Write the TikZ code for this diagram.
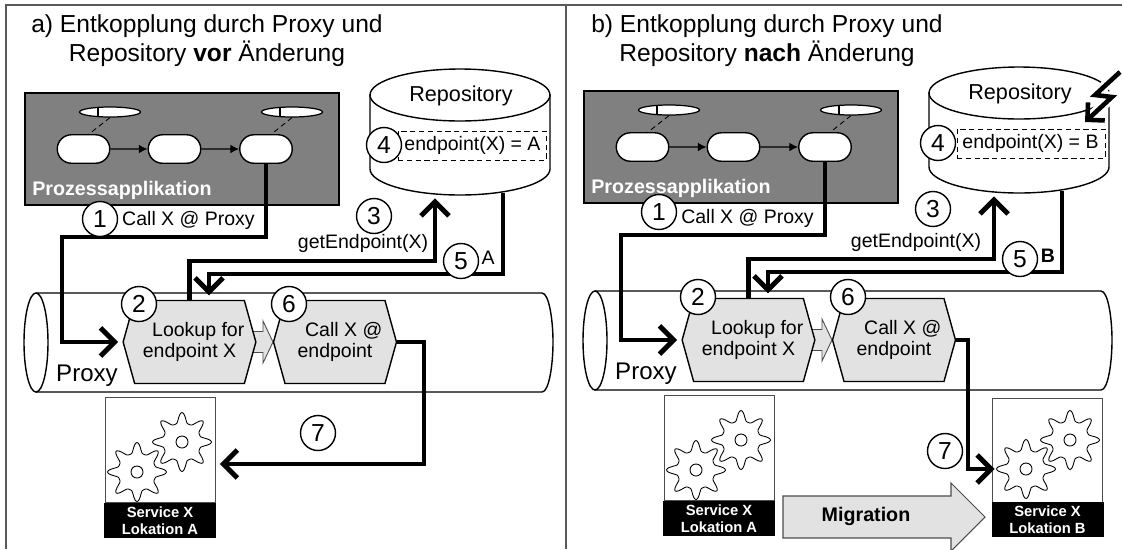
\documentclass[tikz,border=0pt]{standalone}
\usepackage{fontspec}
\setmainfont{Liberation Sans}
\usetikzlibrary{shapes.geometric, shapes.misc, shapes.symbols, arrows.meta, positioning, calc}

\definecolor{procgray}{HTML}{808080}
\definecolor{boxgray}{HTML}{E2E2E2}

\tikzset{
  frameline/.style={draw=black!65, line width=0.7pt},
  titletext/.style={font=\fontsize{14}{16.4}\selectfont, align=center},
  smalltext/.style={font=\fontsize{11.1}{11.5}\selectfont, align=center, inner sep=0pt},
  procbox/.style={draw=black, fill=procgray, line width=0.8pt, minimum width=6.28cm, minimum height=2.24cm, inner sep=0pt},
  taskbox/.style={rounded rectangle, draw=black, fill=white, line width=0.8pt, minimum width=1.05cm, minimum height=0.57cm, inner sep=0pt},
  eventbox/.style={ellipse, draw=black, fill=white, line width=0.7pt, minimum width=1.22cm, minimum height=0.2cm, inner sep=0pt},
  hexbox/.style={signal, signal from=nowhere, signal to=east and west, signal pointer angle=149, draw=black, fill=boxgray, line width=0.8pt, minimum width=2.46cm, minimum height=1.66cm, inner sep=0pt, smalltext},
  numcircle/.style={circle, draw=black, fill=white, line width=0.8pt, minimum size=0.7cm, inner sep=0pt, font=\fontsize{14}{14}\selectfont},
  servicebox/.style={draw=black!70, fill=white, line width=0.5pt, minimum width=2.2cm, minimum height=2.1cm, inner sep=0pt},
  servicelabel/.style={fill=black, text=white, minimum width=2.24cm, minimum height=0.7cm, inner sep=0pt, align=center, font=\fontsize{8.4}{10}\selectfont\bfseries},
  flow/.style={line width=2.8pt, shorten >=2.5pt, -{Straight Barb[length=8pt, width=16pt, line width=2.8pt]}},
  shell/.style={draw=black, fill=white, line width=0.8pt},
}

\newcommand{\gearshape}[2]{
  \draw[black, fill=white, line width=0.5pt] plot[smooth cycle, domain=0:357.5, samples=144]
    ({#1+(19+10.5*(0.5+0.5*cos(8*\x))^2)*cos(\x)}, {#2+(19+10.5*(0.5+0.5*cos(8*\x))^2)*sin(\x)});
  \draw[black, fill=white, line width=0.5pt] (#1,#2) circle[radius=6];
}

\begin{document}
\begin{tikzpicture}[x=0.02cm, y=-0.02cm]

  \useasboundingbox (0,0) rectangle (1122,549);

  %\draw[help lines, step=100] (0,0) grid (1122,549);

  \draw[frameline] (6,549) -- (6,5) -- (1122,5);
  \draw[frameline] (566,5) -- (566,549);

  \node[titletext] (a-title) at (207,41) {a) Entkopplung durch Proxy und\\Repository \textbf{vor} Änderung};
  \node[titletext] (b-title) at (767,41) {b) Entkopplung durch Proxy und\\Repository \textbf{nach} Änderung};

  % both panels share everything but a few shifts
  \foreach \p/\dx/\dy/\cf in {a/0/0/0, b/559/-2/-5} {
    \begin{scope}[shift={(\dx,\dy)}]
      \node[procbox] (\p-proc) at (182,149) {};
      \node[anchor=west, inner sep=0pt, text=white, font=\fontsize{11.2}{12}\selectfont\bfseries] (\p-proctext) at (32,190) {Prozessapplikation};
      \node[taskbox] (\p-task1) at (83.5,149) {};
      \node[taskbox] (\p-task2) at (174.5,149) {};
      \node[taskbox] (\p-task3) at (266,149) {};
      \node[eventbox] (\p-ev1) at (110,112) {};
      \node[eventbox] (\p-ev3) at (292,112) {};
      \draw[line width=0.7pt] ([xshift=-.24cm,yshift=.09cm]\p-ev1.center) -- ([xshift=-.24cm,yshift=-.09cm]\p-ev1.center);
      \draw[line width=0.7pt] ([xshift=-.24cm,yshift=.09cm]\p-ev3.center) -- ([xshift=-.24cm,yshift=-.09cm]\p-ev3.center);
      \draw[densely dashed, line width=0.5pt] (\p-ev1.south) -- (\p-task1.70);
      \draw[densely dashed, line width=0.5pt] (\p-ev3.south) -- (\p-task3.70);
      \draw[line width=0.7pt, -{Latex[length=5pt, width=5pt]}] (\p-task1) -- (\p-task2);
      \draw[line width=0.7pt, -{Latex[length=5pt, width=5pt]}] (\p-task2) -- (\p-task3);

      % proxy tube
      \draw[shell] (36,293) -- (542,293) .. controls (549,293) and (553,320) .. (553,342) .. controls (553,365) and (549,392) .. (542,392) -- (36,392) -- cycle;
      \node[ellipse, shell, minimum width=0.48cm, minimum height=1.98cm, inner sep=0pt] (\p-proxycap) at (36,342.5) {};
      \node[inner sep=0pt, font=\fontsize{13.7}{14}\selectfont] (\p-proxytext) at (87,376) {Proxy};

      \draw[draw=black!70, fill=boxgray, line width=0.5pt] (240,331.5) -- (263,331.5) -- (263,321) -- (273,342) -- (263,363) -- (263,352.5) -- (240,352.5) -- cycle;
      \node[hexbox] (\p-lookup) at (189.5,342) {\hspace*{0.9em}Lookup for\\endpoint X};
      \node[hexbox] (\p-call) at (335,342) {\hspace*{0.9em}Call X @\\endpoint};

      % repository drum
      \draw[shell] (370,95) -- (370,169) .. controls (370,183) and (410,195) .. (460,195) .. controls (510,195) and (550,183) .. (550,169) -- (550,95) -- cycle;
      \node[ellipse, shell, minimum width=3.6cm, minimum height=1.04cm, inner sep=0pt] (\p-repocap) at (460,95) {};
      \node[inner sep=0pt, font=\fontsize{12.3}{13}\selectfont] (\p-repotext) at (461,96) {Repository};
      \node[draw=black, densely dashed, line width=0.5pt, minimum width=2.96cm, minimum height=0.58cm, inner sep=0pt] (\p-entry) at (472,145.5) {};

      \node[servicebox] (\p-service) at (160,450) {};
      \gearshape{182}{442}
      \gearshape{137}{472}
      \node[servicelabel] (\p-label) at (160,520.5) {Service X\\Lokation A};

      \coordinate (\p-k1) at (62,237);
      \coordinate (\p-k3) at (435,261);
      \coordinate (\p-r3) at (435,194);
      \coordinate (\p-r5) at (503,193);
      \coordinate (\p-k5) at (209,274);

      \draw[flow] (\p-task3.south) |- (\p-k1) |- (\p-lookup.west);
      \draw[flow] (\p-lookup.north) |- (\p-k3) -- (\p-r3);
      \draw[flow] (\p-r5) |- (\p-k5) -- (\p-k5 |- \p-lookup.north);

      \node[numcircle] (\p-n1) at (100,219+\cf) {1};
      \node[numcircle] (\p-n2) at (139,304+\cf) {2};
      \node[numcircle] (\p-n3) at (374,216+\cf) {3};
      \node[numcircle] (\p-n4) at (384+\cf,145) {4};
      \node[numcircle] (\p-n5) at (461,261) {5};
      \node[numcircle] (\p-n6) at (289,304+\cf) {6};

      \node[smalltext] (\p-calltext) at (188.5,220) {Call X @ Proxy};
    \end{scope}
  }

  \node[smalltext] (a-gettext) at (363,243) {getEndpoint(X)};
  \node[smalltext] (b-gettext) at (916,242) {getEndpoint(X)};
  \node[smalltext] (a-value) at (472.5,145.5) {endpoint(X) = A};
  \node[smalltext] (b-value) at (1030.5,143.5) {endpoint(X) = B};
  \node[smalltext] (a-answer) at (488,258) {A};
  \node[smalltext, font=\fontsize{11.1}{11.5}\selectfont\bfseries] (b-answer) at (1048,256) {B};

  % step 7 differs between the panels
  \coordinate (a-k7) at (424,464);
  \draw[flow] (a-call.east) -| (a-k7) -- (a-k7 -| a-service.east);
  \node[numcircle] (a-n7) at (318,433) {7};

  \node[servicebox] (b-service) at (1047.5,451) {};
  \gearshape{1070}{440}
  \gearshape{1026}{469}
  \node[servicelabel] (b-label) at (1047.5,519.5) {Service X\\Lokation B};

  \coordinate (b-k7) at (968,469);
  \coordinate (b-t7) at (999,469);
  \draw[flow] (b-call.east) -| (b-k7) -- (b-t7);
  \node[numcircle] (b-n7) at (945,451) {7};

  % migration arrow
  \draw[draw=black!70, fill=boxgray, line width=0.6pt] (783,496) -- (951,496) -- (951,483) -- (985,517) -- (951,551) -- (951,538) -- (783,538) -- cycle;
  \node[inner sep=0pt, font=\fontsize{11.2}{12}\selectfont\bfseries] (b-migtext) at (866,516) {Migration};

  % lightning hits the repository
  \coordinate (b-z1) at (1120,72);
  \coordinate (b-z2) at (1095,95);
  \coordinate (b-z3) at (1112,97);
  \coordinate (b-z4) at (1085,122);
  \draw[white, line width=6pt] (b-z1) -- (b-z2) -- (b-z3) -- (b-z4);
  \draw[line width=2.6pt, -{Straight Barb[length=7pt, width=14pt, line width=2.6pt]}] (b-z1) -- (b-z2) -- (b-z3) -- (b-z4);

\end{tikzpicture}
\end{document}
